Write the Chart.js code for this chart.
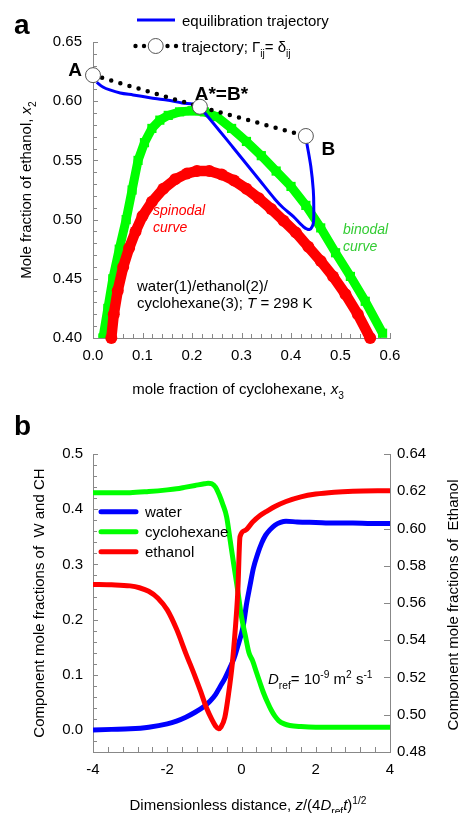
<!DOCTYPE html>
<html>
<head>
<meta charset="utf-8">
<script src="https://cdn.jsdelivr.net/npm/chart.js@4.4.1/dist/chart.umd.min.js"></script>
<style>
  body { margin: 0; background: #fff; }
  #wrap { position: relative; width: 459px; height: 813px; }
  canvas { position: absolute; left: 0; }
</style>
</head>
<body>
<div id="wrap">
  <canvas id="chartA" width="459" height="400" style="top:0"></canvas>
  <canvas id="chartB" width="459" height="413" style="top:400px"></canvas>
</div>
<script>
// ---- panel a: ternary phase diagram (x3 = cyclohexane, x2 = ethanol)
const binodalX3 = [0.02, 0.03, 0.04, 0.053, 0.067, 0.079, 0.091, 0.104, 0.119, 0.135, 0.152, 0.175, 0.2, 0.225, 0.25, 0.28, 0.31, 0.34, 0.37, 0.40, 0.43, 0.46, 0.49, 0.52, 0.55, 0.585];
const binodalX2 = [0.40, 0.425, 0.45, 0.475, 0.50, 0.525, 0.55, 0.565, 0.577, 0.584, 0.588, 0.591, 0.592, 0.591, 0.587, 0.577, 0.566, 0.554, 0.541, 0.528, 0.512, 0.493, 0.472, 0.452, 0.431, 0.404];

const spinodalX3 = [0.037, 0.042, 0.05, 0.061, 0.073, 0.086, 0.1, 0.119, 0.142, 0.166, 0.19, 0.21, 0.235, 0.26, 0.285, 0.31, 0.335, 0.36, 0.385, 0.41, 0.435, 0.46, 0.485, 0.51, 0.535, 0.56];
const spinodalX2 = [0.40, 0.42, 0.44, 0.46, 0.476, 0.49, 0.503, 0.515, 0.526, 0.534, 0.539, 0.541, 0.541, 0.538, 0.533, 0.526, 0.518, 0.509, 0.499, 0.489, 0.477, 0.465, 0.452, 0.437, 0.42, 0.40];

const trajX3 = [0.0075, 0.02, 0.034, 0.055, 0.081, 0.115, 0.149, 0.18, 0.21, 0.23, 0.283, 0.337, 0.368, 0.384, 0.405, 0.425, 0.438, 0.445, 0.446, 0.445, 0.44, 0.432];
const trajX2 = [0.616, 0.612, 0.6095, 0.607, 0.6053, 0.603, 0.601, 0.5985, 0.5965, 0.588, 0.5609, 0.533, 0.517, 0.510, 0.5025, 0.494, 0.4917, 0.4968, 0.511, 0.525, 0.545, 0.5645];

// A, A*=B*, B
const idealX3 = [0.0, 0.216, 0.43];
const idealX2 = [0.622, 0.5953, 0.5706];

const aXTicks = [0, 0.1, 0.2, 0.3, 0.4, 0.5, 0.6];
const aYTicks = [0.40, 0.45, 0.50, 0.55, 0.60, 0.65];

// ---- panel b: profiles vs dimensionless distance
const waterZ = [-4, -3.5, -3, -2.5, -2, -1.75, -1.5, -1.25, -1, -0.85, -0.7, -0.58, -0.45, -0.31, -0.2, -0.1, 0, 0.05, 0.14, 0.23, 0.32, 0.43, 0.54, 0.65, 0.77, 0.9, 1.05, 1.2, 1.5, 2, 2.5, 3, 3.5, 4];
const waterX = [0, 0.001, 0.002, 0.005, 0.011, 0.016, 0.023, 0.032, 0.043, 0.052, 0.064, 0.078, 0.093, 0.113, 0.13, 0.152, 0.175, 0.19, 0.23, 0.262, 0.293, 0.318, 0.338, 0.353, 0.363, 0.371, 0.376, 0.378, 0.377, 0.376, 0.375, 0.375, 0.374, 0.374];

const cycloZ = [-4, -3.5, -3, -2.5, -2, -1.75, -1.5, -1.25, -1.0, -0.9, -0.8, -0.7, -0.6, -0.5, -0.4, -0.3, -0.2, -0.1, 0, 0.1, 0.2, 0.3, 0.4, 0.5, 0.6, 0.7, 0.8, 0.9, 1.0, 1.15, 1.3, 1.6, 2, 3, 4];
const cycloX = [0.430, 0.430, 0.430, 0.432, 0.435, 0.437, 0.440, 0.443, 0.446, 0.447, 0.446, 0.440, 0.426, 0.408, 0.386, 0.341, 0.296, 0.252, 0.205, 0.172, 0.14, 0.125, 0.105, 0.085, 0.066, 0.05, 0.036, 0.025, 0.017, 0.011, 0.008, 0.006, 0.005, 0.005, 0.005];

const ethanolZ = [-4, -3.5, -3, -2.75, -2.5, -2.25, -2, -1.75, -1.5, -1.25, -1.1, -0.95, -0.8, -0.7, -0.62, -0.55, -0.45, -0.35, -0.25, -0.175, -0.1, -0.04, 0.1, 0.3, 0.5, 0.7, 0.9, 1.2, 1.6, 2, 2.5, 3, 4];
const ethanolX = [0.570, 0.5698, 0.5692, 0.5682, 0.5663, 0.5626, 0.5563, 0.546, 0.533, 0.5205, 0.5125, 0.504, 0.4975, 0.494, 0.4925, 0.4935, 0.4985, 0.511, 0.527, 0.544, 0.566, 0.5956, 0.599, 0.6035, 0.607, 0.6095, 0.6118, 0.6145, 0.617, 0.6185, 0.6195, 0.62, 0.6203];

const bXTicks = [-4, -2, 0, 2, 4];
const bLeftTicks = [0, 0.1, 0.2, 0.3, 0.4, 0.5];
const bRightTicks = [0.48, 0.50, 0.52, 0.54, 0.56, 0.58, 0.60, 0.62, 0.64];

const FONT = 'Arial, "Liberation Sans", Helvetica, sans-serif';
const AXIS = '#888888';

function pts(xs, ys) {
    return xs.map((x, i) => ({ x: x, y: ys[i] }));
}

function range(a, b, step) {
    const out = [];
    for (let v = a; v <= b + step / 2; v += step) out.push(+v.toFixed(4));
    return out;
}

// text with italic / sub / sup pieces
function drawRich(ctx, segs, x, y, size, align, angle, color) {
    ctx.save();
    ctx.translate(x, y);
    ctx.rotate(angle || 0);
    ctx.fillStyle = color || '#000';
    ctx.textBaseline = 'alphabetic';
    ctx.textAlign = 'left';
    const parts = segs.map(s => {
        if (typeof s === 'string') s = { t: s };
        const small = s.sub || s.sup;
        const sz = small ? size * 0.68 : size;
        const font = (s.it ? 'italic ' : '') + (s.bold ? 'bold ' : '') + sz + 'px ' + FONT;
        ctx.font = font;
        return { t: s.t, font: font, w: ctx.measureText(s.t).width, dy: s.sub ? size * 0.3 : (s.sup ? -size * 0.42 : 0) };
    });
    const total = parts.reduce((a, p) => a + p.w, 0);
    let cx = align === 'center' ? -total / 2 : (align === 'right' ? -total : 0);
    parts.forEach(p => {
        ctx.font = p.font;
        ctx.fillText(p.t, cx, p.dy);
        cx += p.w;
    });
    ctx.restore();
}

// inward tick marks drawn through the chart's scales
function tickMarks(specs) {
    return {
        id: 'tickMarks',
        beforeDatasetsDraw(chart) {
            const ctx = chart.ctx;
            ctx.save();
            ctx.strokeStyle = AXIS;
            ctx.lineWidth = 1;
            specs.forEach(sp => {
                const s = chart.scales[sp.id];
                [[sp.major, sp.majLen], [sp.minor || [], sp.minLen]].forEach(([vals, len]) => {
                    vals.forEach(v => {
                        const p = Math.round(s.getPixelForValue(v)) + 0.5;
                        ctx.beginPath();
                        if (sp.side === 'bottom') {
                            ctx.moveTo(p, s.top); ctx.lineTo(p, s.top - len);
                        } else if (sp.side === 'left') {
                            ctx.moveTo(s.right, p); ctx.lineTo(s.right + len, p);
                        } else {
                            ctx.moveTo(s.left, p); ctx.lineTo(s.left - len, p);
                        }
                        ctx.stroke();
                    });
                });
            });
            ctx.restore();
        }
    };
}

function axisOpts(min, max, ticks, fmt, pad, extra) {
    return Object.assign({
        type: 'linear',
        min: min,
        max: max,
        afterBuildTicks: s => { s.ticks = ticks.map(v => ({ value: v })); },
        ticks: {
            callback: fmt,
            padding: pad,
            autoSkip: false,
            maxRotation: 0,
            color: '#000',
            font: { family: FONT, size: 15 }
        },
        grid: { display: false, drawTicks: false },
        border: { display: true, color: AXIS, width: 1 }
    }, extra);
}

// ---------------- chart a ----------------
const annotA = {
    id: 'annotA',
    afterDraw(chart) {
        const ctx = chart.ctx;
        const sx = chart.scales.x, sy = chart.scales.y;
        drawRich(ctx, [{ t: 'a', bold: true }], 14, 34, 28, 'left');

        // legend
        ctx.save();
        ctx.strokeStyle = '#0000ff';
        ctx.lineWidth = 3;
        ctx.beginPath(); ctx.moveTo(137, 20); ctx.lineTo(175, 20); ctx.stroke();
        ctx.fillStyle = '#000';
        [135.5, 144, 167.5, 176].forEach(x => { ctx.beginPath(); ctx.arc(x, 46, 2.2, 0, Math.PI * 2); ctx.fill(); });
        ctx.fillStyle = '#fff';
        ctx.strokeStyle = '#555';
        ctx.lineWidth = 1;
        ctx.beginPath(); ctx.arc(155.7, 46, 7.5, 0, Math.PI * 2); ctx.fill(); ctx.stroke();
        ctx.restore();
        drawRich(ctx, ['equilibration trajectory'], 182, 26, 15, 'left');
        drawRich(ctx, ['trajectory; \u0393', { t: 'ij', sub: true }, '= \u03b4', { t: 'ij', sub: true }], 182, 52, 15, 'left');

        // point labels
        const px = i => sx.getPixelForValue(idealX3[i]);
        const py = i => sy.getPixelForValue(idealX2[i]);
        drawRich(ctx, [{ t: 'A', bold: true }], px(0) - 18, py(0) + 1, 19, 'center');
        drawRich(ctx, [{ t: 'A*=B*', bold: true }], px(1) + 21.5, py(1) - 7, 19, 'center');
        drawRich(ctx, [{ t: 'B', bold: true }], px(2) + 22.5, py(2) + 19, 19, 'center');

        drawRich(ctx, [{ t: 'spinodal', it: true }], 153, 215, 14, 'left', 0, '#ff0000');
        drawRich(ctx, [{ t: 'curve', it: true }], 153, 232, 14, 'left', 0, '#ff0000');
        drawRich(ctx, [{ t: 'binodal', it: true }], 343, 234, 14, 'left', 0, '#33cc33');
        drawRich(ctx, [{ t: 'curve', it: true }], 343, 251, 14, 'left', 0, '#33cc33');

        drawRich(ctx, ['water(1)/ethanol(2)/'], 137, 291, 15, 'left');
        drawRich(ctx, ['cyclohexane(3); ', { t: 'T', it: true }, ' = 298 K'], 137, 308, 15, 'left');

        drawRich(ctx, ['mole fraction of cyclohexane, ', { t: 'x', it: true }, { t: '3', sub: true }], 238, 394, 15, 'center');
        drawRich(ctx, ['Mole fraction of ethanol, ', { t: 'x', it: true }, { t: '2', sub: true }], 31, 190, 15, 'center', -Math.PI / 2);
    }
};

new Chart(document.getElementById('chartA'), {
    type: 'scatter',
    data: {
        datasets: [
            {
                label: 'A, A*=B*, B',
                data: pts(idealX3, idealX2),
                showLine: false,
                pointRadius: 7.5,
                pointBackgroundColor: '#fff',
                pointBorderColor: '#555',
                pointBorderWidth: 1,
                clip: false,
                order: 0
            },
            {
                label: 'trajectory; Gij = dij',
                data: pts(idealX3, idealX2),
                showLine: true,
                borderColor: '#000',
                borderWidth: 4.5,
                borderDash: [0, 9.5],
                borderCapStyle: 'round',
                pointRadius: 0,
                order: 1
            },
            {
                label: 'equilibration trajectory',
                data: pts(trajX3, trajX2),
                showLine: true,
                borderColor: '#0000ff',
                borderWidth: 3,
                tension: 0.3,
                pointRadius: 0,
                order: 2
            },
            {
                label: 'spinodal curve',
                data: pts(spinodalX3, spinodalX2),
                showLine: true,
                borderColor: '#ff0000',
                borderWidth: 10.5,
                pointRadius: 6,
                pointStyle: 'circle',
                pointBackgroundColor: '#ff0000',
                pointBorderWidth: 0,
                clip: false,
                order: 3
            },
            {
                label: 'binodal curve',
                data: pts(binodalX3, binodalX2),
                showLine: true,
                borderColor: '#00ff00',
                borderWidth: 9,
                pointRadius: 6.5,
                pointStyle: 'rect',
                pointBackgroundColor: '#00ff00',
                pointBorderWidth: 0,
                order: 4
            }
        ]
    },
    options: {
        responsive: false,
        animation: false,
        events: [],
        layout: { padding: { left: 0, right: 69, top: 42, bottom: 0 } },
        plugins: { legend: { display: false }, tooltip: { enabled: false } },
        scales: {
            x: axisOpts(0, 0.6, aXTicks, v => v.toFixed(1), 9, { afterFit: s => { s.height = 62; } }),
            y: axisOpts(0.40, 0.65, aYTicks, v => v.toFixed(2), 11, { afterFit: s => { s.width = 93; } })
        }
    },
    plugins: [
        tickMarks([
            { id: 'x', side: 'bottom', major: aXTicks, minor: range(0, 0.6, 0.02), majLen: 5, minLen: 4 },
            { id: 'y', side: 'left', major: aYTicks, minor: range(0.40, 0.65, 0.01), majLen: 5, minLen: 4 }
        ]),
        annotA
    ]
});

// ---------------- chart b ----------------
const annotB = {
    id: 'annotB',
    afterDraw(chart) {
        const ctx = chart.ctx;
        drawRich(ctx, [{ t: 'b', bold: true }], 14, 35, 28, 'left');

        const legend = [['water', '#0000ff'], ['cyclohexane', '#00ff00'], ['ethanol', '#ff0000']];
        legend.forEach(([name, col], i) => {
            const y = 111.7 + i * 20;
            ctx.save();
            ctx.strokeStyle = col;
            ctx.lineWidth = 5;
            ctx.lineCap = 'round';
            ctx.beginPath(); ctx.moveTo(101, y); ctx.lineTo(136, y); ctx.stroke();
            ctx.restore();
            drawRich(ctx, [name], 145, y + 5, 15, 'left');
        });

        drawRich(ctx, [{ t: 'D', it: true }, { t: 'ref', sub: true }, '= 10', { t: '-9', sup: true }, ' m', { t: '2', sup: true }, ' s', { t: '-1', sup: true }], 268, 284, 15, 'left');

        drawRich(ctx, ['Dimensionless distance, ', { t: 'z', it: true }, '/(4', { t: 'D', it: true }, { t: 'ref', sub: true }, { t: 't', it: true }, ')', { t: '1/2', sup: true }], 248, 410, 15, 'center');
        drawRich(ctx, ['Component mole fractions of  W and CH'], 44, 203, 15, 'center', -Math.PI / 2);
        drawRich(ctx, ['Component mole fractions of  Ethanol'], 458, 205, 15, 'center', -Math.PI / 2);
    }
};

new Chart(document.getElementById('chartB'), {
    type: 'scatter',
    data: {
        datasets: [
            {
                label: 'ethanol',
                data: pts(ethanolZ, ethanolX),
                yAxisID: 'y2',
                showLine: true,
                borderColor: '#ff0000',
                borderWidth: 5,
                cubicInterpolationMode: 'monotone',
                pointRadius: 0,
                order: 0
            },
            {
                label: 'cyclohexane',
                data: pts(cycloZ, cycloX),
                yAxisID: 'y',
                showLine: true,
                borderColor: '#00ff00',
                borderWidth: 5,
                cubicInterpolationMode: 'monotone',
                pointRadius: 0,
                order: 1
            },
            {
                label: 'water',
                data: pts(waterZ, waterX),
                yAxisID: 'y',
                showLine: true,
                borderColor: '#0000ff',
                borderWidth: 5,
                cubicInterpolationMode: 'monotone',
                pointRadius: 0,
                order: 2
            }
        ]
    },
    options: {
        responsive: false,
        animation: false,
        events: [],
        layout: { padding: { left: 0, right: 0, top: 54, bottom: 0 } },
        plugins: { legend: { display: false }, tooltip: { enabled: false } },
        scales: {
            x: axisOpts(-4, 4, bXTicks, v => String(v), 9, { afterFit: s => { s.height = 61; } }),
            y: axisOpts(-0.04, 0.5, bLeftTicks, v => v.toFixed(1), 10, { position: 'left', afterFit: s => { s.width = 93; } }),
            y2: axisOpts(0.48, 0.64, bRightTicks, v => v.toFixed(2), 7, { position: 'right', afterFit: s => { s.width = 69; } })
        }
    },
    plugins: [
        tickMarks([
            { id: 'x', side: 'bottom', major: bXTicks, minor: range(-4, 4, 0.4), majLen: 5, minLen: 5 },
            { id: 'y', side: 'left', major: bLeftTicks, minor: range(-0.04, 0.5, 0.02), majLen: 5, minLen: 4 },
            { id: 'y2', side: 'right', major: bRightTicks, minor: [], majLen: 6, minLen: 0 }
        ]),
        annotB
    ]
});
</script>
</body>
</html>
